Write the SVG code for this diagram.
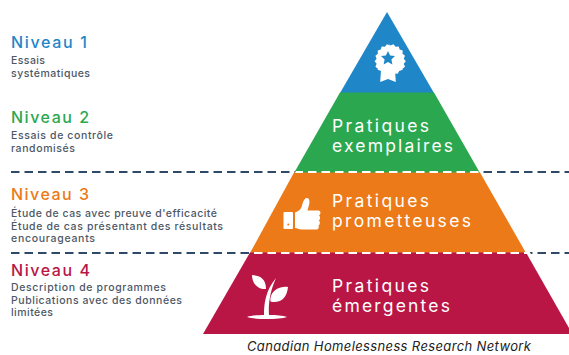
<svg xmlns="http://www.w3.org/2000/svg" width="569" height="355" viewBox="0 0 569 355">
<style>
text{font-family:"Inter","Lato","Liberation Sans",sans-serif}
.h{font-size:16px;font-weight:500}
.s{font-size:10.500px;fill:#4d5866;font-weight:500}
.p{font-size:17.500px;fill:#fff;font-weight:400}
.d{stroke-width:2.200;stroke-dasharray:8.500 5;fill:none}
.w{fill:#fff}
</style>
<defs><clipPath id="pyr"><polygon points="387,12 569,318 569,334 203,334"/></clipPath></defs>
<rect width="569" height="355" fill="#fff"/>
<g id="dividers-dark"><path class="d" stroke="#2f4a68" d="M11 172H569M11 253H569"/></g>
<g id="tier1"><polygon points="387,12 434,93 340,93" fill="#1f86c8"/>
<path class="w" d="M388 44l2.500 2 3-1.200 2 2.500 3.200-.2 1 3 3 1-.2 3.200 2.500 2-1.200 3 2 2.500-2 2.500 1.200 3-2.500 2 .2 1-3.500 1.200-1.500 2.800-3-.2-2 2.200-2.500-1.500-2.500 1.500-2-2.200-3 .2-1.500-2.800-3.500-1.200.2-1-2.500-2 1.200-3-2-2.500 2-2.500-1.200-3 2.500-2-.2-3.200 3-1 1-3 3.200.2 2-2.500 3 1.200z" transform="translate(0 -.5)"/>
<path class="w" d="M381 70l7 3 7-3 .8 12-7.800-3-7.800 3z"/>
<path fill="#1f86c8" d="M388 51l2.100 4.500 4.900.6-3.600 3.400 1 4.900-4.400-2.400-4.400 2.400 1-4.900-3.600-3.400 4.900-.6z"/></g>
<g id="tier2"><polygon points="340,92.500 434,92.500 480,173 294,173" fill="#2ba84f"/>
<text class="p" x="332" y="132" textLength="97">Pratiques</text><text class="p" x="332" y="152" textLength="121">exemplaires</text></g>
<g id="tier3"><polygon points="294,172.500 480,172.500 526,253 250,253" fill="#ec7a18"/>
<path class="w" d="M284.500 212h7.500a1 1 0 0 1 1 1v15a1 1 0 0 1-1 1h-7.500a1 1 0 0 1-1-1v-15a1 1 0 0 1 1-1z"/>
<circle cx="288.300" cy="224.500" r="1" fill="#ec7a18"/>
<path class="w" d="M295 212.500c4-1.500 6-3 7-7 1-3.500 2-7 4.500-7.500 3-.2 3.500 3.500 2.500 7l-1.500 5.500h11c2.500 0 2.500 4 .5 5 1.500 1 1.500 4-.2 5 1.500 1 1.500 4-.3 5 .8 1.500 0 4-2 4h-15c-3 0-4-1.500-6.500-1.500z"/>
<text class="p" x="332" y="207" textLength="97">Pratiques</text><text class="p" x="332" y="227" textLength="139">prometteuses</text></g>
<g id="tier4"><polygon points="250,252.500 526,252.500 569,328 569,334 203,334" fill="#b91646"/>
<path class="w" d="M247 317c4-1.500 12-2 17-2 0-10 1-24 12-37-5 11-8 24-7 37 7 0 14 .5 18 2-4 1.500-12 2-20 2s-16-.5-20-2z"/>
<path class="w" d="M252 275c7 .5 14 3 14 14-8 .5-14-5-14-14z"/>
<path class="w" d="M288 287c-1 10-6 16-16 15-2 0-2-3-1-6 2-6 9-10 17-9z"/>
<text class="p" x="332" y="292" textLength="97">Pratiques</text><text class="p" x="332" y="312" textLength="118">émergentes</text></g>
<g id="dividers-light" clip-path="url(#pyr)"><path class="d" stroke="#fff" d="M11 172H569M11 253H569"/></g>
<g id="level1"><text class="h" x="11" y="48" fill="#1f86c8" textLength="76">Niveau 1</text><text class="s" x="11" y="64" textLength="34">Essais</text><text class="s" x="11" y="77" textLength="79">systématiques</text></g>
<g id="level2"><text class="h" x="11" y="123" fill="#2ba84f" textLength="78">Niveau 2</text><text class="s" x="11" y="139" textLength="102">Essais de contrôle</text><text class="s" x="11" y="152" textLength="64">randomisés</text></g>
<g id="level3"><text class="h" x="11" y="200" fill="#ec7a18" textLength="78">Niveau 3</text><text class="s" x="11" y="217" textLength="206">Étude de cas avec preuve d'efficacité</text><text class="s" x="11" y="230" textLength="212">Étude de cas présentant des résultats</text><text class="s" x="11" y="242" textLength="84">encourageants</text></g>
<g id="level4"><text class="h" x="11" y="276" fill="#b91646" textLength="79">Niveau 4</text><text class="s" x="11" y="291" textLength="155">Description de programmes</text><text class="s" x="11" y="304" textLength="171">Publications avec des données</text><text class="s" x="11" y="316" textLength="42">limitées</text></g>
<text x="247" y="351" font-size="13" font-style="italic" fill="#222" textLength="284">Canadian Homelessness Research Network</text>
</svg>
